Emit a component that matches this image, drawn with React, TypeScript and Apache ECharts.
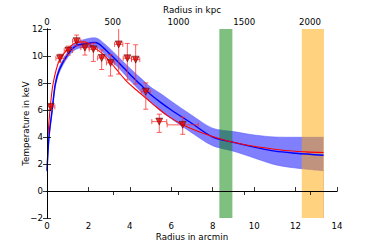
import React, { useEffect, useRef } from "react";
import * as echarts from "echarts";

// Observed data points (arcmin, keV)
const radius = [0.18, 0.63, 1.03, 1.43, 1.83, 2.24, 2.64, 3.07, 3.46, 3.88, 4.28, 4.77, 5.42, 6.55];
const temp = [6.23, 9.83, 10.4, 11.1, 10.62, 10.5, 9.85, 9.49, 10.86, 9.83, 9.73, 7.36, 5.14, 4.9];
const radiusErr = [0.2, 0.2, 0.2, 0.2, 0.2, 0.2, 0.2, 0.2, 0.2, 0.2, 0.2, 0.22, 0.36, 0.75];
const tempErrUp = [0.2, 0.3, 0.33, 0.45, 0.35, 0.45, 0.6, 0.6, 2.2, 1.1, 1.1, 0.65, 0.55, 0.57];
const tempErrDown = [0.2, 0.3, 0.33, 0.35, 0.55, 0.9, 0.85, 0.97, 2.2, 1.6, 1.8, 1.3, 0.8, 0.7];

// Blue model with confidence band
const modelR = [0, 0.1, 0.25, 0.4, 0.6, 1.0, 1.4, 2.0, 2.25, 2.5, 3.0, 3.5, 4.0, 4.5, 5.0, 5.5, 6.0, 7.0, 8.0, 9.0, 10.0, 11.0, 12.0, 13.35];
const blueMid = [1.5, 4.1, 6.0, 7.9, 9.0, 10.1, 10.75, 10.95, 11.0, 10.9, 10.2, 9.45, 8.65, 7.9, 7.15, 6.55, 6.0, 5.0, 4.0, 3.6, 3.25, 2.95, 2.8, 2.65];
const blueUpper = [1.6, 4.3, 6.2, 8.1, 9.2, 10.3, 11.0, 11.3, 11.35, 11.25, 10.6, 9.85, 9.1, 8.4, 7.7, 7.2, 6.65, 5.6, 4.65, 4.4, 4.15, 4.0, 3.98, 3.98];
const blueLower = [1.4, 3.9, 5.8, 7.7, 8.8, 9.9, 10.5, 10.65, 10.65, 10.55, 9.8, 9.05, 8.2, 7.4, 6.6, 5.9, 5.35, 4.3, 3.35, 2.95, 2.45, 1.95, 1.7, 1.5];

// Red model
const redR = [0.05, 0.15, 0.3, 0.6, 1.0, 1.4, 1.8, 2.3, 2.8, 3.3, 3.8, 4.3, 4.8, 5.3, 5.8, 6.5, 7.5, 8.5, 9.5, 10.5, 11.5, 12.5, 13.35];
const redT = [4.2, 6.1, 8.0, 9.7, 10.5, 11.0, 11.05, 10.6, 10.0, 9.1, 8.2, 7.5, 6.85, 6.2, 5.6, 4.95, 4.3, 3.8, 3.45, 3.2, 3.0, 2.9, 2.85];

// Shaded radial ranges (arcmin)
const greenRange = [8.32, 8.95];
const orangeRange = [12.3, 13.37];

const kpcMax = 2205;
const FONT = "DejaVu Sans";

export default function App() {
  const ref = useRef<HTMLDivElement>(null);
  useEffect(() => {
    if (!ref.current) return;
    const chart = echarts.init(ref.current, null, { renderer: "svg" });
    const axisCommon = {
      z: 10,
      nameMoveOverlap: false,
      axisLine: { show: true, lineStyle: { color: "#000", width: 1 } },
      axisTick: { show: true, inside: true, length: 4, lineStyle: { color: "#000", width: 0.8 } },
      splitLine: { show: false },
      axisLabel: { color: "#000", fontFamily: FONT, fontSize: 8.6 },
      nameTextStyle: { color: "#000", fontFamily: FONT, fontSize: 8.7 },
    };
    const minus = (v: number) => String(v).replace("-", "\u2212");
    const errData = radius.map((r, i) => [r, temp[i], radiusErr[i], tempErrUp[i], tempErrDown[i]]);
    const option: any = {
      animation: false,
      grid: { left: 47, top: 24, width: 290, height: 194 },
      xAxis: [
        {
          ...axisCommon,
          type: "value", position: "bottom", min: 0, max: 14, interval: 2,
          name: "Radius in arcmin", nameLocation: "middle", nameGap: 14,
          axisLabel: { ...axisCommon.axisLabel, margin: 3 },
        },
        {
          ...axisCommon,
          type: "value", position: "top", min: 0, max: kpcMax, interval: 500,
          name: "Radius in kpc", nameLocation: "middle", nameGap: 15,
          axisLabel: {
            ...axisCommon.axisLabel, margin: 3, showMaxLabel: false,
            formatter: (v: number) => (v % 500 === 0 ? String(v) : ""),
          },
        },
      ],
      yAxis: [
        {
          ...axisCommon,
          type: "value", min: -2, max: 12, interval: 2,
          name: "Temperature in keV", nameLocation: "middle", nameGap: 17,
          axisLabel: { ...axisCommon.axisLabel, margin: 4, formatter: minus },
        },
        {
          ...axisCommon,
          type: "value", position: "right", min: -2, max: 12, interval: 2,
          axisLabel: { show: false },
        },
      ],
      series: [
        {
          type: "line", name: "bandUpper", smooth: 0.3, symbol: "none", z: 1, silent: true,
          data: modelR.map((r, i) => [r, blueUpper[i]]),
          lineStyle: { color: "#5555ff", width: 0.5 },
          areaStyle: { color: "#8080ff", opacity: 1, origin: "start" },
        },
        {
          type: "line", name: "bandLower", smooth: 0.3, symbol: "none", z: 1, silent: true,
          data: modelR.map((r, i) => [r, blueLower[i]]),
          lineStyle: { color: "#5555ff", width: 0.5 },
          areaStyle: { color: "#ffffff", opacity: 1, origin: "start" },
        },
        {
          type: "line", name: "ranges", data: [], z: 3, silent: true,
          markArea: {
            silent: true,
            z: 3,
            data: [
              [{ xAxis: greenRange[0], itemStyle: { color: "rgba(0,128,0,0.5)" } }, { xAxis: greenRange[1] }],
              [{ xAxis: orangeRange[0], itemStyle: { color: "rgba(255,165,0,0.5)" } }, { xAxis: orangeRange[1] }],
            ],
          },
        },
        {
          type: "line", name: "blue", smooth: 0.3, symbol: "none", z: 4,
          data: modelR.map((r, i) => [r, blueMid[i]]),
          lineStyle: { color: "#0000ff", width: 1.4 },
        },
        {
          type: "line", name: "red", smooth: 0.3, symbol: "none", z: 4,
          data: redR.map((r, i) => [r, redT[i]]),
          lineStyle: { color: "#ff0000", width: 1.1 },
        },
        {
          type: "custom", name: "err", z: 5,
          data: errData,
          renderItem: (params: any, api: any) => {
            const cs = params.coordSys;
            const x = api.value(0), y = api.value(1), xe = api.value(2), yu = api.value(3), yd = api.value(4);
            const c = api.coord([x, y]);
            const l = api.coord([x - xe, y]);
            const r = api.coord([x + xe, y]);
            const t = api.coord([x, y + yu]);
            const b = api.coord([x, y - yd]);
            const style = { stroke: "rgba(255,40,40,0.75)", lineWidth: 1 };
            const cap = 2.5;
            const children: any[] = [];
            const lx = Math.max(l[0], cs.x);
            const ty = Math.max(t[1], cs.y);
            children.push({ type: "line", shape: { x1: lx, y1: c[1], x2: r[0], y2: c[1] }, style });
            children.push({ type: "line", shape: { x1: c[0], y1: ty, x2: c[0], y2: b[1] }, style });
            if (l[0] >= cs.x) children.push({ type: "line", shape: { x1: l[0], y1: c[1] - cap, x2: l[0], y2: c[1] + cap }, style });
            children.push({ type: "line", shape: { x1: r[0], y1: c[1] - cap, x2: r[0], y2: c[1] + cap }, style });
            if (t[1] >= cs.y) children.push({ type: "line", shape: { x1: c[0] - cap, y1: t[1], x2: c[0] + cap, y2: t[1] }, style });
            children.push({ type: "line", shape: { x1: c[0] - cap, y1: b[1], x2: c[0] + cap, y2: b[1] }, style });
            return { type: "group", children };
          },
        },
        {
          type: "scatter", name: "points", z: 6,
          data: radius.map((r, i) => [r, temp[i]]),
          symbol: "triangle", symbolRotate: 180, symbolSize: 7,
          itemStyle: { color: "#dd0000", borderColor: "#440000", borderWidth: 0.6 },
        },
      ],
    };
    chart.setOption(option);
    return () => chart.dispose();
  }, []);
  return (
    <div
      ref={ref}
      style={{ position: "fixed", left: 0, top: 0, width: 374, height: 249, background: "#fff" }}
    />
  );
}
